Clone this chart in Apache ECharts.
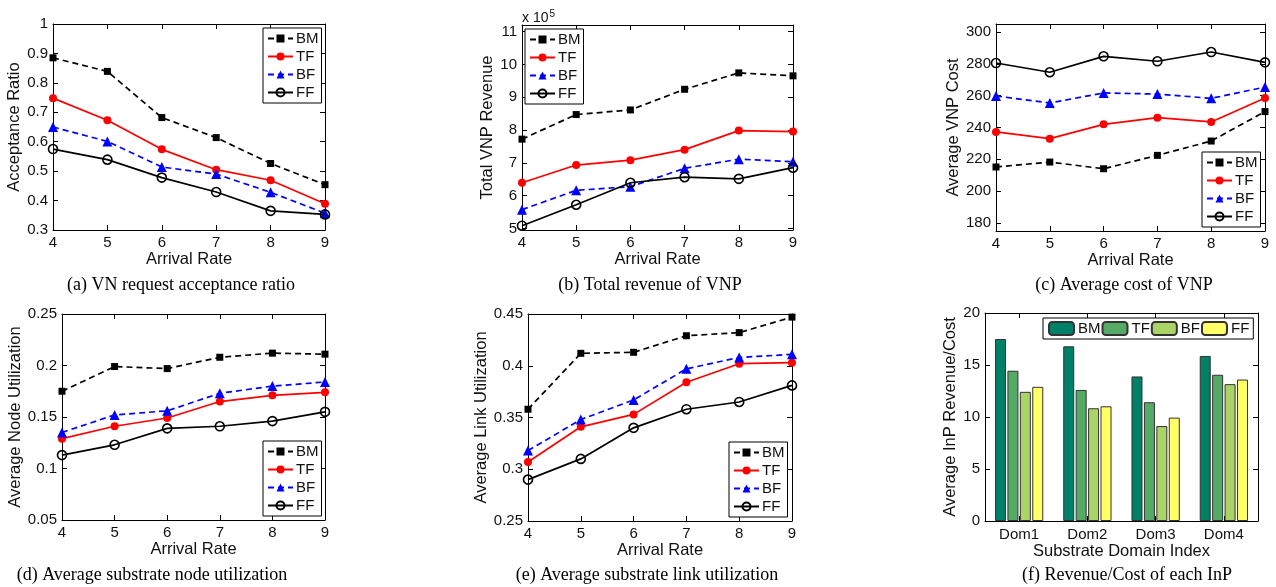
<!DOCTYPE html>
<html><head><meta charset="utf-8">
<script src="https://cdn.jsdelivr.net/npm/echarts@6/dist/echarts.min.js"></script>
<style>html,body{margin:0;padding:0;background:#fff}#c{width:1276px;height:587px}</style>
</head><body><div id="c"></div>
<script>
// ---------- data ----------
const arrivalRates = [4, 5, 6, 7, 8, 9];
const algNames = ['BM', 'TF', 'BF', 'FF'];
// (a) acceptance ratio
const accBM = [0.885, 0.839, 0.682, 0.614, 0.526, 0.454];
const accTF = [0.748, 0.673, 0.574, 0.505, 0.469, 0.389];
const accBF = [0.650, 0.601, 0.514, 0.490, 0.428, 0.357];
const accFF = [0.575, 0.539, 0.478, 0.429, 0.365, 0.353];
// (b) total VNP revenue (x 10^5)
const revBM = [7.72, 8.47, 8.61, 9.24, 9.74, 9.65];
const revTF = [6.39, 6.93, 7.08, 7.40, 7.98, 7.95];
const revBF = [5.57, 6.16, 6.27, 6.83, 7.11, 7.03];
const revFF = [5.08, 5.72, 6.39, 6.56, 6.51, 6.85];
const revTicks = [5, 6, 7, 8, 9, 10, 11];
// (c) average VNP cost
const costBM = [215.2, 218.3, 214.1, 222.5, 231.5, 250.0];
const costTF = [237.2, 233.0, 242.0, 246.2, 243.5, 258.5];
const costBF = [259.8, 255.4, 261.7, 261.0, 258.3, 265.4];
const costFF = [280.5, 274.7, 284.7, 281.6, 287.4, 280.9];
const costTicks = [180, 200, 220, 240, 260, 280, 300];
// (d) average node utilization
const nodeBM = [0.175, 0.199, 0.197, 0.208, 0.212, 0.211];
const nodeTF = [0.129, 0.141, 0.149, 0.165, 0.171, 0.174];
const nodeBF = [0.135, 0.152, 0.156, 0.173, 0.180, 0.184];
const nodeFF = [0.113, 0.123, 0.139, 0.141, 0.146, 0.155];
// (e) average link utilization
const linkBM = [0.358, 0.412, 0.413, 0.429, 0.432, 0.447];
const linkTF = [0.307, 0.341, 0.353, 0.384, 0.402, 0.403];
const linkBF = [0.318, 0.348, 0.367, 0.397, 0.408, 0.411];
const linkFF = [0.290, 0.310, 0.340, 0.358, 0.365, 0.381];
// (f) revenue/cost per InP
const domains = ['Dom1', 'Dom2', 'Dom3', 'Dom4'];
const rcBM = [17.5, 16.8, 13.9, 15.87];
const rcTF = [14.45, 12.6, 11.42, 14.06];
const rcBF = [12.42, 10.84, 9.13, 13.16];
const rcFF = [12.9, 11.03, 9.94, 13.6];

// ---------- styling / layout ----------
const SANS = 'Liberation Sans, Arial, sans-serif';
const SERIF = 'Liberation Serif, Times New Roman, serif';
const TXT = '#111';
const lineStyles = {
  BM: {lineStyle: {color: '#000', width: 1.7, type: [6, 4]}, symbol: 'rect', symbolSize: 7, itemStyle: {color: '#000'}},
  TF: {lineStyle: {color: '#f00', width: 1.7, type: 'solid'}, symbol: 'circle', symbolSize: 8, itemStyle: {color: '#f00'}},
  BF: {lineStyle: {color: '#00f', width: 1.7, type: [6, 4]}, symbol: 'triangle', symbolSize: 10, itemStyle: {color: '#00f'}},
  FF: {lineStyle: {color: '#000', width: 1.7, type: 'solid'}, symbol: 'circle', symbolSize: 9, itemStyle: {color: 'rgba(0,0,0,0)', borderColor: '#000', borderWidth: 1.6}}
};
const barColors = {BM: '#008066', TF: '#55aa66', BF: '#aad466', FF: '#ffff66'};

const fmt = v => String(+(+v).toFixed(4));

const panels = [
  {grid: [53, 24, 272, 206], yName: 'Acceptance Ratio', yGap: 24, ymin: 0.3, ymax: 1, yint: 0.1,
   data: [accBM, accTF, accBF, accFF], legend: [263, 28], caption: ['(a) VN request acceptance ratio', 181, 285]},
  {grid: [522, 25, 271, 205], yName: 'Total VNP Revenue', yGap: 21, ymin: 4.95, ymax: 11.2, yTicks: revTicks,
   data: [revBM, revTF, revBF, revFF], legend: [525, 29], caption: ['(b) Total revenue of VNP', 650, 285]},
  {grid: [996, 24, 269, 207], yName: 'Average VNP Cost', yGap: 28, ymin: 175, ymax: 305, yTicks: costTicks,
   data: [costBM, costTF, costBF, costFF], legend: [1202, 152], caption: ['(c) Average cost of VNP', 1124, 285]},
  {grid: [62, 314, 263, 206], yName: 'Average Node Utilization', yGap: 34, ymin: 0.05, ymax: 0.25, yint: 0.05,
   data: [nodeBM, nodeTF, nodeBF, nodeFF], legend: [263, 441], caption: ['(d) Average substrate node utilization', 152, 575]},
  {grid: [528, 314, 264, 207], yName: 'Average Link Utilization', yGap: 34, ymin: 0.25, ymax: 0.45, yint: 0.05,
   data: [linkBM, linkTF, linkBF, linkFF], legend: [729, 442], caption: ['(e) Average substrate link utilization', 647, 575]},
  {grid: [985, 313, 273, 208], yName: 'Average InP Revenue/Cost', yGap: 20, ymin: 0, ymax: 20, yint: 5,
   bar: true, data: [rcBM, rcTF, rcBF, rcFF], legend: [1043, 318], caption: ['(f) Revenue/Cost of each InP', 1127, 575]}
];

function baseAxis(extra) {
  return Object.assign({
    axisLine: {show: true, onZero: false, lineStyle: {color: '#000', width: 1}},
    axisTick: {show: true, inside: true, length: 5, lineStyle: {color: '#000', width: 1}},
    axisLabel: {show: true, color: TXT, fontSize: 15, fontFamily: SANS, margin: 5, formatter: fmt},
    splitLine: {show: false},
    nameTextStyle: {color: TXT, fontSize: 16.5, fontFamily: SANS}
  }, extra);
}

const grids = [], xAxes = [], yAxes = [], series = [], legends = [], graphics = [];

panels.forEach((p, i) => {
  grids.push({left: p.grid[0], top: p.grid[1], width: p.grid[2], height: p.grid[3], outerBoundsMode: 'none', containLabel: false});
  if (p.bar) {
    const xb = {type: 'category', data: domains, boundaryGap: true, gridIndex: i};
    xAxes.push(baseAxis(Object.assign({}, xb, {position: 'bottom', name: 'Substrate Domain Index', nameLocation: 'middle', nameGap: 22,
      axisTick: {show: true, inside: true, length: 5, alignWithLabel: true, lineStyle: {color: '#000'}},
      axisLabel: {color: TXT, fontSize: 15, fontFamily: SANS, margin: 6}})));
    xAxes.push(baseAxis(Object.assign({}, xb, {position: 'top', axisLabel: {show: false},
      axisTick: {show: true, inside: true, length: 5, alignWithLabel: true, lineStyle: {color: '#000'}}})));
  } else {
    const xv = {type: 'value', min: 4, max: 9, interval: 1, gridIndex: i};
    xAxes.push(baseAxis(Object.assign({}, xv, {position: 'bottom', name: 'Arrival Rate', nameLocation: 'middle', nameGap: 20})));
    xAxes.push(baseAxis(Object.assign({}, xv, {position: 'top', axisLabel: {show: false}})));
  }
  const yv = {type: 'value', min: p.ymin, max: p.ymax, gridIndex: i};
  if (p.yint) yv.interval = p.yint;
  const yl = baseAxis(Object.assign({}, yv, {position: 'left', name: p.yName, nameLocation: 'middle', nameGap: p.yGap}));
  const yr = baseAxis(Object.assign({}, yv, {position: 'right'}));
  yr.axisLabel = {show: false};
  if (p.yTicks) {
    yl.axisLabel.customValues = p.yTicks;
    yl.axisTick = Object.assign({}, yl.axisTick, {customValues: p.yTicks});
    yr.axisTick = Object.assign({}, yr.axisTick, {customValues: p.yTicks});
  }
  yAxes.push(yl, yr);

  algNames.forEach((nm, k) => {
    if (p.bar) {
      series.push({
        type: 'bar', name: nm + '#bar', xAxisIndex: 2 * i, yAxisIndex: 2 * i,
        data: p.data[k], barWidth: 11, barGap: '13%',
        itemStyle: {color: barColors[nm], borderColor: '#333', borderWidth: 1}
      });
    } else {
      const st = lineStyles[nm];
      series.push({
        type: 'line', name: nm, xAxisIndex: 2 * i, yAxisIndex: 2 * i,
        data: arrivalRates.map((x, j) => [x, p.data[k][j]]),
        symbol: st.symbol, symbolSize: st.symbolSize, showSymbol: true, showAllSymbol: true,
        lineStyle: st.lineStyle, itemStyle: st.itemStyle, z: 3 + k
      });
    }
  });

  if (p.bar) {
    legends.push({
      data: algNames.map(n => n + '#bar'), formatter: n => n.replace('#bar', ''),
      left: p.legend[0], top: p.legend[1], orient: 'horizontal', selectedMode: false,
      padding: [3, 4, 3, 5], itemGap: 1, itemWidth: 25, itemHeight: 13,
      borderColor: '#000', borderWidth: 1, backgroundColor: '#fff',
      textStyle: {color: TXT, fontSize: 15, fontFamily: SANS, width: 22, padding: [0, 0, 0, -1]}
    });
  } else {
    legends.push({
      data: algNames.slice(), left: p.legend[0], top: p.legend[1], orient: 'vertical', selectedMode: false,
      padding: [3, 3, 3, 4], itemGap: 3, itemWidth: 25, itemHeight: 10,
      borderColor: '#000', borderWidth: 1, backgroundColor: '#fff',
      textStyle: {color: TXT, fontSize: 15, fontFamily: SANS, padding: [0, 0, 0, -2]}
    });
  }

  graphics.push({
    type: 'text', x: p.caption[1], y: p.caption[2], silent: true,
    style: {text: p.caption[0], fill: '#000', font: '18px ' + SERIF, textAlign: 'center', textVerticalAlign: 'middle'}
  });
});

graphics.push({
  type: 'text', x: 522, y: 18, silent: true,
  style: {text: '{a|x 10}{b|5}', fill: TXT, textVerticalAlign: 'middle',
    rich: {a: {fontSize: 14, fontFamily: SANS, color: TXT}, b: {fontSize: 10, fontFamily: SANS, color: TXT, verticalAlign: 'top', padding: [0, 0, 8, 1]}}}
});

const chart = echarts.init(document.getElementById('c'), null, {renderer: 'canvas'});
chart.setOption({
  animation: false,
  backgroundColor: '#fff',
  textStyle: {fontFamily: SANS},
  grid: grids, xAxis: xAxes, yAxis: yAxes, series: series, legend: legends, graphic: graphics
});
</script></body></html>
